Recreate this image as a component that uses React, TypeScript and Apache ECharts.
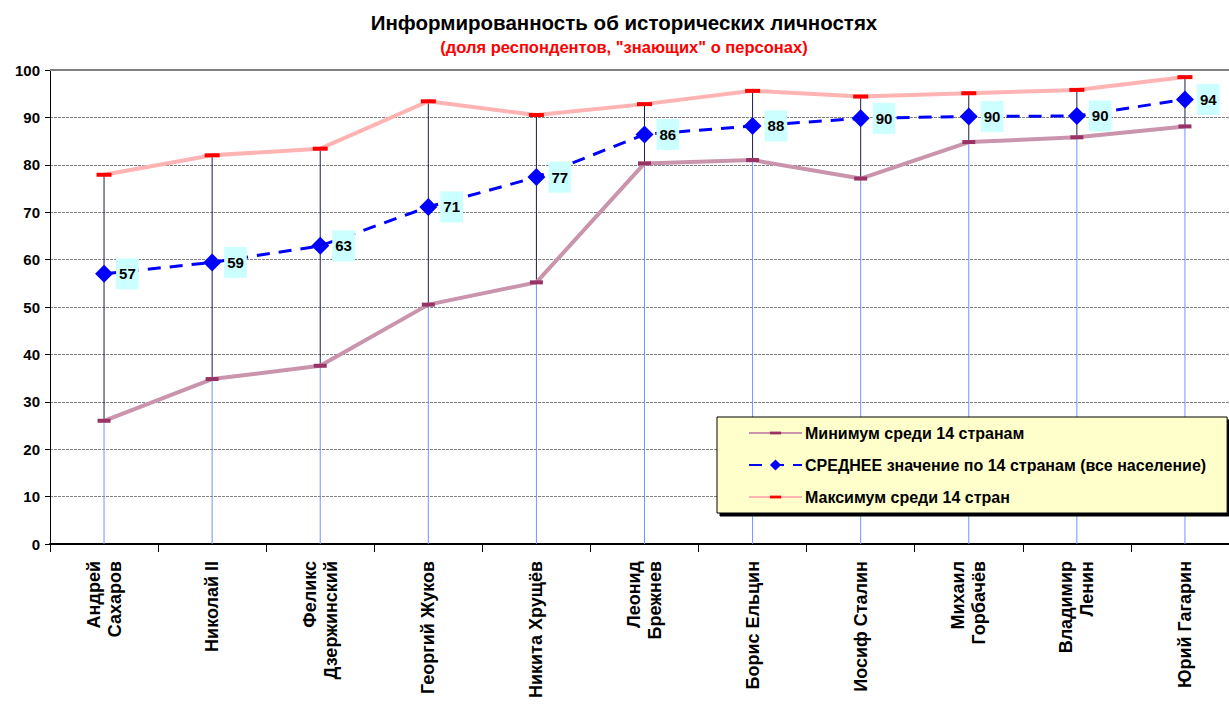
import React, { useEffect, useRef } from "react";
import * as echarts from "echarts";

const categories = [
  "Андрей\nСахаров",
  "Николай II",
  "Феликс\nДзержинский",
  "Георгий Жуков",
  "Никита Хрущёв",
  "Леонид\nБрежнев",
  "Борис Ельцин",
  "Иосиф Сталин",
  "Михаил\nГорбачёв",
  "Владимир\nЛенин",
  "Юрий Гагарин",
];
const minValues = [26, 34.8, 37.6, 50.5, 55.2, 80.3, 81, 77.1, 84.8, 85.8, 88.1];
const avgValues = [57, 59.4, 62.9, 71.1, 77.4, 86.4, 88.2, 89.8, 90.2, 90.3, 93.8];
const maxValues = [77.9, 82, 83.4, 93.4, 90.5, 92.8, 95.6, 94.4, 95.1, 95.8, 98.5];
const yTicks = { min: 0, max: 100, interval: 10 };
const titleText = "Информированность об исторических личностях";
const subtitleText = '(доля респондентов, "знающих" о персонах)';

const FONT = "'Liberation Sans', Arial, sans-serif";
// short horizontal dash inside a square bounding box (invisible move points keep the box square)
const DASH = "path://M6,0 M0,4.5h12v3h-12z M6,12";

export default function App() {
  const ref = useRef<HTMLDivElement>(null);
  useEffect(() => {
    document.body.style.margin = "0";
    document.body.style.overflow = "hidden";
    const chart = echarts.init(ref.current!, null, { renderer: "svg" });
    const rangeData = categories.map((_, i) => [i, minValues[i], maxValues[i]]);
    chart.setOption({
      animation: false,
      textStyle: { fontFamily: FONT },
      graphic: [
        {
          type: "text",
          x: 624,
          y: 22,
          style: {
            text: titleText,
            font: `bold 20.5px ${FONT}`,
            fill: "#000",
            align: "center",
            verticalAlign: "middle",
          },
        },
        {
          type: "text",
          x: 624,
          y: 47,
          style: {
            text: subtitleText,
            font: `bold 16.5px ${FONT}`,
            fill: "#FF0000",
            align: "center",
            verticalAlign: "middle",
          },
        },
      ],
      legend: {
        orient: "vertical",
        left: 717,
        top: 417,
        padding: [8, 21, 8, 31],
        itemGap: 16,
        itemWidth: 53,
        itemHeight: 14,
        backgroundColor: "#FFFFCC",
        borderColor: "#000",
        borderWidth: 1,
        shadowColor: "#000",
        shadowOffsetX: 3,
        shadowOffsetY: 3,
        shadowBlur: 0,
        textStyle: { fontSize: 16, fontWeight: "bold", color: "#000", fontFamily: FONT, padding: [0, 0, 0, -2] },
        data: [
          "Минимум среди 14 странам",
          "СРЕДНЕЕ значение по 14 странам (все население)",
          "Максимум среди 14 стран",
        ],
      },
      grid: { left: 50, top: 70, width: 1189, height: 474, containLabel: false, outerBoundsMode: "none" },
      xAxis: {
        type: "category",
        data: categories,
        boundaryGap: true,
        axisLine: { lineStyle: { color: "#000", width: 2 } },
        axisTick: { show: true, length: 8, interval: 0, lineStyle: { color: "#000", width: 1 } },
        axisLabel: {
          interval: 0,
          rotate: 90,
          margin: 17,
          fontSize: 18,
          lineHeight: 21,
          fontWeight: "bold",
          color: "#000",
          fontFamily: FONT,
        },
        splitLine: { show: false },
      },
      yAxis: {
        type: "value",
        min: yTicks.min,
        max: yTicks.max,
        interval: yTicks.interval,
        axisLine: { show: true, lineStyle: { color: "#000", width: 1 } },
        axisTick: { show: true, length: 5, lineStyle: { color: "#000" } },
        axisLabel: { fontSize: 15, fontWeight: "bold", color: "#000", margin: 10, fontFamily: FONT },
        splitLine: { show: true, lineStyle: { color: "#808080", width: 1, type: [3, 1] } },
      },
      series: [
        {
          type: "custom",
          name: "range",
          z: 1,
          silent: true,
          data: rangeData,
          renderItem: (params: any, api: any) => {
            const i = api.value(0);
            const p0 = api.coord([i, 0]);
            const pMin = api.coord([i, api.value(1)]);
            const pMax = api.coord([i, api.value(2)]);
            return {
              type: "group",
              children: [
                {
                  type: "line",
                  shape: { x1: p0[0], y1: p0[1], x2: pMin[0], y2: pMin[1] },
                  style: { stroke: "#6f95ff", lineWidth: 1 },
                },
                {
                  type: "line",
                  shape: { x1: pMin[0], y1: pMin[1], x2: pMax[0], y2: pMax[1] },
                  style: { stroke: "#1a1f4a", lineWidth: 1 },
                },
              ],
            };
          },
          markLine: {
            silent: true,
            symbol: "none",
            label: { show: false },
            lineStyle: { color: "#7f7f7f", width: 2, type: "solid" },
            data: [{ yAxis: 100 }],
          },
        },
        {
          type: "line",
          name: "Минимум среди 14 странам",
          data: minValues,
          z: 3,
          symbol: DASH,
          symbolSize: [13, 16],
          itemStyle: { color: "#993366" },
          lineStyle: { color: "#c994ac", width: 4 },
        },
        {
          type: "line",
          name: "СРЕДНЕЕ значение по 14 странам (все население)",
          data: avgValues,
          z: 4,
          symbol: "diamond",
          symbolSize: 18,
          itemStyle: { color: "#0000FF" },
          lineStyle: { color: "#0000FF", width: 3, type: [13, 9] },
          label: {
            show: true,
            position: "right",
            distance: 3,
            formatter: (p: any) => String(Math.round(p.value)),
            backgroundColor: "#CCFFFF",
            padding: [8, 3, 8, 3],
            fontSize: 15,
            fontWeight: "bold",
            color: "#000",
            fontFamily: FONT,
          },
        },
        {
          type: "line",
          name: "Максимум среди 14 стран",
          data: maxValues,
          z: 3,
          symbol: DASH,
          symbolSize: [15, 16],
          itemStyle: { color: "#FF0000" },
          lineStyle: { color: "#ffb3b3", width: 4 },
        },
      ],
    });
    return () => chart.dispose();
  }, []);
  return <div ref={ref} style={{ width: 1229, height: 705 }} />;
}
